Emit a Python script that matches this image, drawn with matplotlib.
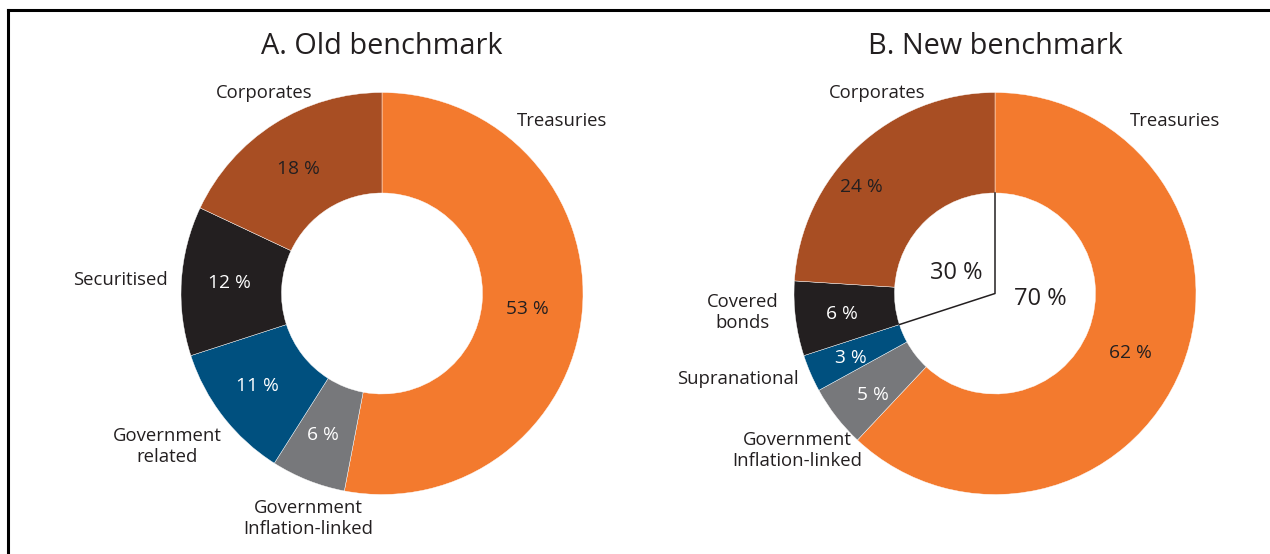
import matplotlib
matplotlib.use('Agg')
import matplotlib.pyplot as plt
import numpy as np

plt.rcParams['font.family'] = ['Open Sans', 'DejaVu Sans']

# segment data, clockwise from 12 o'clock
old_labels = ['Treasuries', 'Government\nInflation-linked', 'Government\nrelated', 'Securitised', 'Corporates']
old_values = [53, 6, 11, 12, 18]
new_labels = ['Treasuries', 'Government\nInflation-linked', 'Supranational', 'Covered\nbonds', 'Corporates']
new_values = [62, 5, 3, 6, 24]
new_split = [70, 30]  # inner ring split

ORANGE = '#F37A2E'
BROWN = '#A84E23'
BLACK = '#231F20'
BLUE = '#00507F'
GREY = '#77787B'
TXT = '#231F20'

old_colors = [ORANGE, GREY, BLUE, BLACK, BROWN]
new_colors = [ORANGE, GREY, BLUE, BLACK, BROWN]

# label / percent positions in pie units (radius = 1)
old_label_pos = [(0.896, 0.856), (-0.368, -1.12), (-1.07, -0.761), (-1.30, 0.065), (-0.587, 1.0)]
old_pct_pos = [(0.721, -0.075), (-0.294, -0.706), (-0.622, -0.458), (-0.761, 0.05), (-0.418, 0.617)]
old_pct_col = [TXT, 'white', 'white', 'white', TXT]

new_label_pos = [(0.896, 0.856), (-0.985, -0.781), (-1.279, -0.423), (-1.254, -0.095), (-0.587, 1.0)]
new_pct_pos = [(0.672, -0.294), (-0.607, -0.507), (-0.716, -0.323), (-0.761, -0.104), (-0.667, 0.532)]
new_pct_col = [TXT, 'white', 'white', 'white', TXT]
split_pos = [(0.224, -0.025), (-0.194, 0.104)]

W, H = 1270, 554
R = 201.0
L = 1.5
fig = plt.figure(figsize=(W / 100, H / 100), dpi=100)


def donut(cx, cy, values, colors, labels, label_pos, pct_pos, pct_col, title):
    size = 2 * L * R
    ax = fig.add_axes([(cx - size / 2) / W, (H - cy - size / 2) / H, size / W, size / H])
    ax.pie(values, colors=colors, startangle=90, counterclock=False,
           wedgeprops=dict(width=0.5, edgecolor='white', linewidth=0.3))
    ax.set_xlim(-L, L)
    ax.set_ylim(-L, L)
    ax.axis('off')
    for lab, (x, y) in zip(labels, label_pos):
        ax.text(x, y, lab, ha='center', va='center', fontsize=13.3, color=TXT, linespacing=1.2)
    for v, (x, y), c in zip(values, pct_pos, pct_col):
        ax.text(x, y, f'{v} %', ha='center', va='center', fontsize=13.8, color=c)
    ax.text(0, 1.23, title, ha='center', va='center', fontsize=20.8, color=TXT)
    return ax


donut(382, 293.5, old_values, old_colors, old_labels, old_label_pos, old_pct_pos,
      old_pct_col, 'A. Old benchmark')
ax2 = donut(995, 293.5, new_values, new_colors, new_labels, new_label_pos, new_pct_pos,
            new_pct_col, 'B. New benchmark')

# split line in the hole of the new benchmark
ang = np.deg2rad(90 - 360 * new_split[0] / 100)
ax2.plot([0, 0, 0.5 * np.cos(ang)], [0.5, 0, 0.5 * np.sin(ang)], color=TXT, lw=1.1)
for v, (x, y) in zip(new_split, split_pos):
    ax2.text(x, y, f'{v} %', ha='center', va='center', fontsize=17, color=TXT)

# frame: top and left edges
fig.add_artist(plt.Line2D([8 / W, 8 / W], [0, 1 - 10 / H], color='black', lw=2.2))
fig.add_artist(plt.Line2D([8 / W, 1], [1 - 10 / H, 1 - 10 / H], color='black', lw=2.2))

fig.savefig('out.png', dpi=100, facecolor='white')
